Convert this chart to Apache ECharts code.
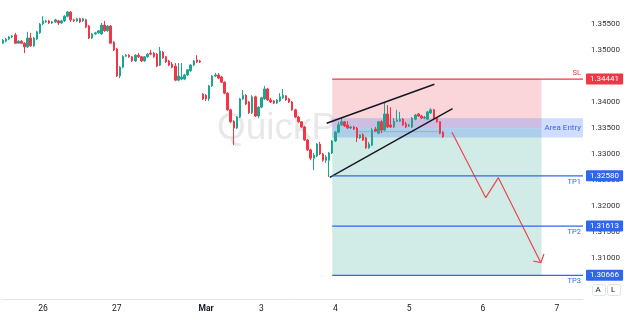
<!DOCTYPE html>
<html><head><meta charset="utf-8">
<script src="https://cdn.jsdelivr.net/npm/echarts@6/dist/echarts.min.js"></script>
<style>html,body{margin:0;padding:0;background:#fff}#c{width:624px;height:316px}</style>
</head><body><div id="c"></div>
<script>
// ---- candle data (hourly), prices ----
const opens = [
1.3513,1.3517,1.3521,1.3525,1.3529,1.3513,1.3517,1.3513,1.3506,1.3523,
1.3508,1.3521,1.3533,1.3550,1.3554,1.3556,1.3552,1.3554,1.3556,1.3552,
1.3556,1.3565,1.3573,1.3558,1.3556,1.3560,1.3556,1.3558,1.3546,1.3523,
1.3531,1.3533,1.3531,1.3548,1.3537,1.3546,1.3515,1.3502,1.3450,1.3467,
1.3488,1.3490,1.3487,1.3479,1.3490,1.3487,1.3479,1.3487,1.3494,1.3494,
1.3492,1.3471,1.3496,1.3487,1.3479,1.3473,1.3469,1.3442,1.3444,1.3444,
1.3452,1.3460,1.3471,1.3481,1.3479,1.3415,1.3413,1.3406,1.3431,1.3450,
1.3452,1.3448,1.3438,1.3417,1.3385,1.3363,1.3350,1.3371,1.3406,1.3413,
1.3400,1.3379,1.3410,1.3373,1.3390,1.3406,1.3425,1.3404,1.3402,1.3398,
1.3402,1.3408,1.3412,1.3406,1.3400,1.3385,1.3371,1.3362,1.3352,1.3327,
1.3308,1.3292,1.3296,1.3319,1.3300,1.3288,1.3288,1.3302,1.3325,1.3342,
1.3356,1.3362,1.3356,1.3350,1.3352,1.3350,1.3331,1.3337,1.3331,1.3312,
1.3317,1.3348,1.3340,1.3362,1.3346,1.3377,1.3356,1.3352,1.3363,1.3363,
1.3367,1.3358,1.3354,1.3352,1.3367,1.3377,1.3373,1.3369,1.3367,1.3379,
1.3385,1.3369,1.3362,1.3342];
const closes = [
1.3519,1.3521,1.3525,1.3527,1.3513,1.3517,1.3513,1.3506,1.3523,1.3508,
1.3523,1.3535,1.3550,1.3556,1.3556,1.3552,1.3554,1.3558,1.3552,1.3556,
1.3565,1.3573,1.3558,1.3556,1.3560,1.3554,1.3560,1.3544,1.3523,1.3531,
1.3533,1.3537,1.3548,1.3537,1.3546,1.3513,1.3500,1.3450,1.3467,1.3488,
1.3490,1.3487,1.3479,1.3490,1.3487,1.3479,1.3487,1.3492,1.3492,1.3487,
1.3469,1.3498,1.3485,1.3477,1.3471,1.3467,1.3442,1.3450,1.3448,1.3452,
1.3462,1.3471,1.3479,1.3477,1.3477,1.3406,1.3406,1.3431,1.3450,1.3452,
1.3446,1.3438,1.3417,1.3385,1.3362,1.3350,1.3371,1.3406,1.3413,1.3396,
1.3379,1.3410,1.3373,1.3390,1.3408,1.3425,1.3404,1.3400,1.3398,1.3404,
1.3410,1.3413,1.3404,1.3400,1.3385,1.3371,1.3362,1.3352,1.3327,1.3308,
1.3292,1.3298,1.3319,1.3300,1.3288,1.3294,1.3302,1.3325,1.3342,1.3356,
1.3362,1.3354,1.3350,1.3352,1.3348,1.3331,1.3337,1.3327,1.3312,1.3319,
1.3346,1.3344,1.3362,1.3346,1.3377,1.3352,1.3352,1.3363,1.3365,1.3367,
1.3356,1.3352,1.3356,1.3369,1.3375,1.3373,1.3369,1.3371,1.3381,1.3385,
1.3369,1.3362,1.3340,1.3333];
const lows = [
1.3512,1.3515,1.3519,1.3523,1.3512,1.3512,1.3512,1.3494,1.3504,1.3506,
1.3506,1.3519,1.3531,1.3548,1.3552,1.3550,1.3550,1.3552,1.3548,1.3550,
1.3554,1.3563,1.3554,1.3554,1.3554,1.3552,1.3554,1.3542,1.3521,1.3521,
1.3529,1.3531,1.3529,1.3535,1.3535,1.3512,1.3498,1.3448,1.3446,1.3465,
1.3487,1.3485,1.3477,1.3477,1.3485,1.3477,1.3477,1.3485,1.3490,1.3485,
1.3467,1.3469,1.3483,1.3475,1.3469,1.3465,1.3440,1.3440,1.3442,1.3442,
1.3450,1.3458,1.3469,1.3475,1.3475,1.3404,1.3402,1.3402,1.3429,1.3448,
1.3444,1.3437,1.3415,1.3383,1.3360,1.3317,1.3348,1.3369,1.3404,1.3394,
1.3377,1.3377,1.3371,1.3369,1.3388,1.3404,1.3402,1.3398,1.3396,1.3396,
1.3400,1.3406,1.3402,1.3398,1.3383,1.3369,1.3360,1.3350,1.3325,1.3306,
1.3288,1.3269,1.3294,1.3298,1.3285,1.3283,1.3256,1.3300,1.3323,1.3340,
1.3354,1.3352,1.3348,1.3348,1.3346,1.3323,1.3329,1.3325,1.3310,1.3310,
1.3315,1.3342,1.3338,1.3340,1.3344,1.3350,1.3350,1.3350,1.3362,1.3362,
1.3354,1.3350,1.3352,1.3350,1.3365,1.3371,1.3367,1.3367,1.3365,1.3377,
1.3367,1.3360,1.3338,1.3331];
const highs = [
1.3521,1.3523,1.3527,1.3529,1.3533,1.3519,1.3519,1.3515,1.3535,1.3533,
1.3525,1.3537,1.3552,1.3565,1.3558,1.3558,1.3556,1.3560,1.3558,1.3558,
1.3567,1.3575,1.3575,1.3560,1.3562,1.3562,1.3562,1.3560,1.3548,1.3533,
1.3535,1.3538,1.3552,1.3556,1.3548,1.3548,1.3517,1.3504,1.3469,1.3490,
1.3492,1.3492,1.3488,1.3492,1.3494,1.3488,1.3488,1.3494,1.3500,1.3496,
1.3494,1.3506,1.3498,1.3488,1.3481,1.3477,1.3475,1.3475,1.3475,1.3454,
1.3463,1.3473,1.3481,1.3490,1.3481,1.3417,1.3415,1.3433,1.3452,1.3456,
1.3456,1.3450,1.3440,1.3419,1.3387,1.3365,1.3373,1.3408,1.3423,1.3415,
1.3402,1.3413,1.3412,1.3392,1.3410,1.3431,1.3427,1.3408,1.3404,1.3406,
1.3417,1.3425,1.3413,1.3408,1.3402,1.3387,1.3373,1.3363,1.3354,1.3329,
1.3310,1.3302,1.3321,1.3323,1.3302,1.3298,1.3304,1.3327,1.3344,1.3362,
1.3369,1.3363,1.3363,1.3354,1.3354,1.3352,1.3338,1.3340,1.3333,1.3323,
1.3350,1.3352,1.3363,1.3365,1.3400,1.3394,1.3390,1.3369,1.3385,1.3381,
1.3369,1.3362,1.3358,1.3371,1.3377,1.3379,1.3375,1.3373,1.3383,1.3388,
1.3387,1.3371,1.3363,1.3344];

// ---- axis ----
const slotCount = 189;                 // hourly slots incl. future area
const dayLabelIdx = [13, 37, 66, 84, 108, 132, 156, 180];
const dayLabels = ['26', '27', 'Mar', '3', '4', '5', '6', '7'];
const priceTicks = [1.355, 1.35, 1.34, 1.335, 1.33, 1.325, 1.32, 1.315, 1.31];

// ---- trade setup ----
const levelNames = ['SL', 'TP1', 'TP2', 'TP3'];
const levelPrices = [1.34441, 1.32580, 1.31613, 1.30666];
const entryPrice = 1.33494;
const entryBand = [1.33687, 1.33319];
const setupStart = 107, setupEnd = 175;

// ---- drawings (x in hourly slots, y in price) ----
const wedgeUpper = [[105.2, 1.33591], [140.2, 1.34341]];
const wedgeLower = [[106.2, 1.32552], [146.1, 1.33872]];
const dottedLevel = [[114.6, 1.33429], [142.1, 1.33429]];
const arrowPath = [[145.9, 1.33418], [156.9, 1.32160], [161.0, 1.32545], [174.8, 1.30910]];
const arrowHead = [[172.3, 1.30943], [174.8, 1.30910], [175.8, 1.31077]];

const candles = opens.map((o, i) => [o, closes[i], lows[i], highs[i]]);
const cats = Array.from({length: slotCount}, (_, i) => String(i));
const axisEnd = slotCount - 0.5;

const RED = '#f23645', BLUE = '#2f67ec', UP = '#1fa58f', DOWN = '#f23645';

const levelSeries = levelNames.map((n, i) => {
  const p = levelPrices[i];
  const col = n === 'SL' ? RED : BLUE;
  return {
    name: n, type: 'line', xAxisIndex: 1, z: 5, silent: true, symbol: 'none',
    data: [[setupStart, p], [axisEnd, p]],
    lineStyle: {color: col, width: 1.3},
    itemStyle: {color: col},
    endLabel: {show: true, distance: 3, formatter: p.toFixed(5), backgroundColor: col,
      color: '#fff', fontSize: 8, padding: [2, 4, 1, 4], borderRadius: 1},
    markLine: {silent: true, symbol: ['none', 'none'], data: [[
      {coord: [setupStart, p], lineStyle: {color: 'rgba(0,0,0,0)', width: 0},
       label: {show: true, position: n === 'SL' ? 'insideEndTop' : 'insideEndBottom', distance: 2,
         formatter: n, color: col, fontSize: 7.5}},
      {coord: [axisEnd, p]}
    ]]}
  };
});

const chart = echarts.init(document.getElementById('c'), null, {renderer: 'canvas'});
chart.setOption({
  animation: false,
  backgroundColor: '#ffffff',
  textStyle: {fontFamily: 'Roboto, "Liberation Sans", sans-serif'},
  grid: {left: 0, right: 41, top: 0, bottom: 16.4},
  xAxis: [{
    type: 'category', data: cats, boundaryGap: true,
    axisLine: {lineStyle: {color: '#e0e3eb'}}, axisTick: {show: false}, splitLine: {show: false},
    axisLabel: {interval: 0, margin: 5, fontSize: 8.5, color: '#131722',
      formatter: (v, i) => { const j = dayLabelIdx.indexOf(i); if (j < 0) return ''; return dayLabels[j] === 'Mar' ? '{b|Mar}' : dayLabels[j]; },
      rich: {b: {fontWeight: 'bold', fontSize: 8.5, color: '#131722'}}}
  }, {
    type: 'value', min: -0.5, max: axisEnd, show: false
  }],
  yAxis: {
    type: 'value', position: 'right', min: 1.302, max: 1.359615, interval: 0.001,
    splitLine: {show: false}, axisLine: {show: false}, axisTick: {show: false},
    axisLabel: {margin: 8, fontSize: 8, color: '#333',
      formatter: v => priceTicks.some(t => Math.abs(t - v) < 1e-7) ? v.toFixed(5) : ''}
  },
  graphic: [
    {type: 'text', left: 217, top: 110, z: 0, silent: true,
     style: {text: 'QuickPro', font: '37px "Liberation Sans", Arial, sans-serif', fill: '#e8e8ea'}},
    {type: 'rect', left: 592, top: 284, z: 50, shape: {width: 13, height: 11, r: 2},
     style: {fill: '#fff', stroke: '#e0e3eb', lineWidth: 1}},
    {type: 'text', left: 595.5, top: 285.5, z: 51, style: {text: 'A', font: '8px Roboto, sans-serif', fill: '#131722'}},
    {type: 'rect', left: 607, top: 284, z: 50, shape: {width: 13, height: 11, r: 2},
     style: {fill: '#fff', stroke: '#e0e3eb', lineWidth: 1}},
    {type: 'text', left: 611, top: 285.5, z: 51, style: {text: 'L', font: '8px Roboto, sans-serif', fill: '#131722'}}
  ],
  series: [
    {
      name: 'zones', type: 'line', xAxisIndex: 1, data: [], z: 1, silent: true,
      markArea: {silent: true, data: [
        [{coord: [setupStart, levelPrices[0]], itemStyle: {color: '#fad6da'}, label: {show: false}}, {coord: [setupEnd, entryPrice]}],
        [{coord: [setupStart, entryPrice], itemStyle: {color: '#d1ece6'}, label: {show: false}}, {coord: [setupEnd, levelPrices[3]]}],
        [{coord: [setupStart, entryBand[0]], itemStyle: {color: 'rgba(41,98,255,0.22)'},
          label: {show: true, position: 'insideRight', distance: 2, formatter: 'Area Entry', color: '#3d64d8', fontSize: 8}},
         {coord: [axisEnd, entryBand[1]]}]
      ]}
    },
    {
      name: 'GBPUSD', type: 'candlestick', data: candles, z: 3, barWidth: 2,
      itemStyle: {color: UP, color0: DOWN, borderColor: UP, borderColor0: DOWN, borderWidth: 1}
    },
    {type: 'line', xAxisIndex: 1, data: dottedLevel, symbol: 'none', z: 4, silent: true,
     lineStyle: {color: '#8a8f99', width: 1, type: 'dotted'}},
    {type: 'line', xAxisIndex: 1, data: wedgeUpper, symbol: 'none', z: 4, silent: true,
     lineStyle: {color: '#131722', width: 1.4}},
    {type: 'line', xAxisIndex: 1, data: wedgeLower, symbol: 'none', z: 4, silent: true,
     lineStyle: {color: '#131722', width: 1.4}},
    {type: 'line', xAxisIndex: 1, data: arrowPath, symbol: 'none', z: 4, silent: true,
     lineStyle: {color: '#ec4550', width: 1.2}},
    {type: 'line', xAxisIndex: 1, data: arrowHead, symbol: 'none', z: 4, silent: true,
     lineStyle: {color: '#ec4550', width: 1.2}}
  ].concat(levelSeries)
});
</script></body></html>
